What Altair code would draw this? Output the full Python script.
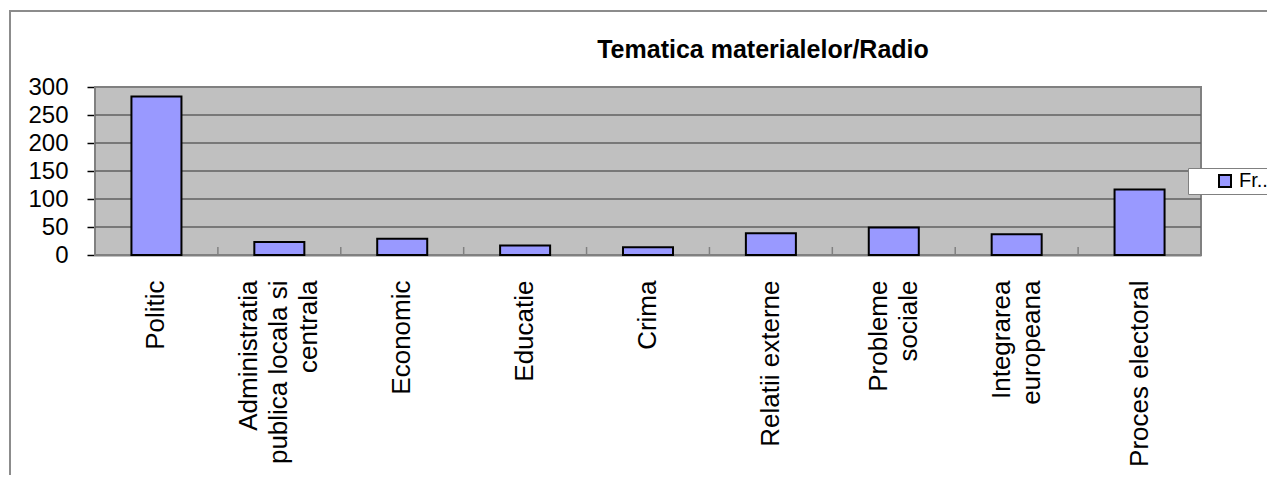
import altair as alt
import pandas as pd

categories = [
    "Politic",
    "Administratia|publica locala si|centrala",
    "Economic",
    "Educatie",
    "Crima",
    "Relatii externe",
    "Probleme|sociale",
    "Integrarea|europeana",
    "Proces electoral",
]
values = [283, 23, 29, 17, 14, 39, 49, 37, 117]
series_name = "Fr.."
y_ticks = [0, 50, 100, 150, 200, 250, 300]
title_text = "Tematica materialelor/Radio"

df = pd.DataFrame({"cat": categories, "val": values, "series": [series_name] * len(values)})
grid_df = pd.DataFrame({"val": y_ticks[1:-1]})

FONT = "Liberation Sans"
W, H = 1106, 168
LINE_H = 30
Y_SCALE = alt.Scale(domain=[0, 300], nice=False)
Y_AXIS = alt.Axis(
    title=None,
    values=y_ticks,
    labelFontSize=24,
    labelFont=FONT,
    labelColor="black",
    labelPadding=19,
    tickSize=8,
    tickColor="black",
    tickWidth=1.5,
    domainColor="black",
    domainWidth=1.5,
    grid=False,
)

base = alt.Chart(df)

plot_bg = alt.Chart(pd.DataFrame({"a": [0]})).mark_rect(
    fill="#C0C0C0", stroke="#808080", strokeWidth=2
).encode(
    x=alt.value(0),
    x2=alt.value(W),
    y=alt.value(0),
    y2=alt.value(H),
)

grid = alt.Chart(grid_df).mark_rule(color="#606060", strokeWidth=1.5).encode(
    y=alt.Y("val:Q", scale=Y_SCALE, axis=Y_AXIS),
    x=alt.value(0),
    x2=alt.value(W),
)

label_offset = {
    "condition": [
        {"test": "length(split(datum.value, '|')) == 3", "value": -LINE_H},
        {"test": "length(split(datum.value, '|')) == 2", "value": -LINE_H / 2},
    ],
    "value": 0,
}

bars = base.mark_bar(stroke="black", strokeWidth=2).encode(
    x=alt.X(
        "cat:N",
        sort=categories,
        scale=alt.Scale(paddingInner=0.593, paddingOuter=0.2965),
        axis=alt.Axis(
            title=None,
            labelAngle=270,
            labelAlign="right",
            labelBaseline="middle",
            labelExpr="split(datum.label, '|')",
            labelLineHeight=LINE_H,
            labelFontSize=26,
            labelFont=FONT,
            labelColor="black",
            labelPadding=25,
            labelLimit=400,
            labelOffset=label_offset,
            ticks=False,
            domainColor="black",
            domainWidth=1.5,
            grid=False,
        ),
    ),
    y=alt.Y("val:Q", scale=Y_SCALE, axis=Y_AXIS),
    color=alt.Color(
        "series:N",
        scale=alt.Scale(range=["#9999FF"]),
        legend=alt.Legend(
            title=None,
            orient="none",
            legendX=1093,
            legendY=81,
            symbolType="square",
            symbolSize=144,
            symbolStrokeColor="black",
            symbolStrokeWidth=2,
            symbolOpacity=1,
            symbolOffset=24,
            labelFont=FONT,
            labelFontSize=20,
            labelColor="black",
            labelOffset=4,
            fillColor="white",
            strokeColor="#808080",
            padding=3,
        ),
    ),
)

ticks = base.transform_window(idx="row_number()").mark_rule(color="#808080", strokeWidth=1.5).encode(
    x=alt.X("idx:Q", scale=alt.Scale(domain=[0, len(categories)], nice=False, zero=True), axis=None),
    y=alt.value(H),
    y2=alt.value(H - 8),
)

frame = alt.Chart(pd.DataFrame({"a": [0]})).mark_rect(
    fill="transparent", stroke="#8c8c8c", strokeWidth=2
).encode(
    x=alt.value(-85),
    x2=alt.value(W + 300),
    y=alt.value(-76),
    y2=alt.value(H + 400),
)

title = alt.Chart(pd.DataFrame({"t": [title_text]})).mark_text(
    font=FONT, fontSize=25, fontWeight="bold", color="black",
    align="center", baseline="alphabetic",
).encode(
    text="t:N",
    x=alt.value(668),
    y=alt.value(-29),
)

chart = (
    alt.layer(frame, plot_bg, grid, bars, ticks, title)
    .resolve_scale(x="independent")
    .properties(
        width=W,
        height=H,
        autosize=alt.AutoSizeParams(type="none"),
        padding={"left": 87, "top": 79, "right": 66, "bottom": 220},
    )
    .configure_view(strokeWidth=0)
    .configure(background="white")
)

chart.save("out.html", embed_options={"renderer": "svg", "actions": False})
